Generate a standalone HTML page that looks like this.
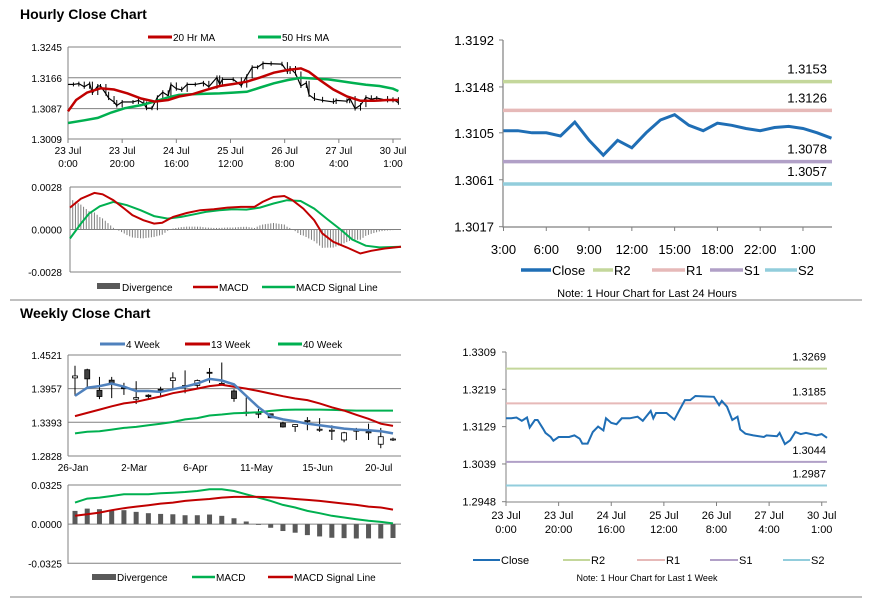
<!DOCTYPE html>
<html><head><meta charset="utf-8">
<style>
body{margin:0;background:#fff;}
svg{display:block;font-family:"Liberation Sans",Arial,sans-serif;}
</style></head>
<body>
<svg id="s" width="873" height="601" viewBox="0 0 873 601" xmlns="http://www.w3.org/2000/svg">
<rect x="0" y="0" width="873" height="601" fill="#fff"/>
<text x="20" y="19" font-size="14" font-weight="bold" fill="#000">Hourly Close Chart</text>
<text x="20" y="318" font-size="14" font-weight="bold" fill="#000">Weekly Close Chart</text>
<line x1="10" y1="300" x2="862" y2="300" stroke="#808080" stroke-width="1"/>
<line x1="10" y1="597" x2="862" y2="597" stroke="#808080" stroke-width="1"/>
<g id="g"></g>
</svg>
<script>
// ---------- DATA ----------
// Hourly close (23 Jul 0:00 .. 30 Jul 1:00), hours offset
const closeHours=[0,2,4,6,8,9,11,12,14,15,17,18,20,24,26,28,29,31,33,35,37,38,40,42,44,47,50,52,55,56,57,61,64,66,68,70,72,75,79,81,82,84,86,88,89,91,94,98,99,103,104,106,108,110,112,114,118,120,122];
const closeVals=[1.3149,1.3149,1.3151,1.3143,1.3151,1.3127,1.3145,1.3145,1.3125,1.3114,1.3104,1.3095,1.3104,1.3104,1.3108,1.3100,1.3088,1.3088,1.3116,1.3129,1.3120,1.3149,1.3138,1.3135,1.3149,1.3149,1.3153,1.3143,1.3167,1.3149,1.3162,1.3162,1.3146,1.3170,1.3193,1.3193,1.3203,1.3202,1.3201,1.3181,1.3191,1.3177,1.3145,1.3153,1.3122,1.3112,1.3108,1.3104,1.3108,1.3106,1.3114,1.3087,1.3096,1.3116,1.3111,1.3114,1.3108,1.3111,1.3102];
const ma20Hours=[0,3,7,12,17,22,27,32,37,41,46,51,56,61,66,71,76,81,86,89,93,98,103,108,113,118,122];
const ma20Vals=[1.3080,1.3109,1.3128,1.3139,1.3136,1.3126,1.3113,1.3105,1.3109,1.3118,1.3124,1.3135,1.3145,1.3150,1.3156,1.3167,1.3179,1.3186,1.3190,1.3181,1.3160,1.3136,1.3118,1.3107,1.3107,1.3109,1.3109];
const ma50Hours=[0,6,11,16,21,27,32,37,41,46,51,56,61,66,71,76,81,86,91,96,100,105,110,115,120,122];
const ma50Vals=[1.3050,1.3057,1.3063,1.3077,1.3088,1.3096,1.3105,1.3116,1.3122,1.3124,1.3125,1.3126,1.3128,1.3130,1.3141,1.3152,1.3160,1.3166,1.3164,1.3162,1.3158,1.3153,1.3148,1.3145,1.3138,1.3132];
const hTickLabels=[["23 Jul","0:00"],["23 Jul","20:00"],["24 Jul","16:00"],["25 Jul","12:00"],["26 Jul","8:00"],["27 Jul","4:00"],["30 Jul","1:00"]];
const hTickHours=[0,20,40,60,80,100,120];
const hYTicks=[1.3245,1.3166,1.3087,1.3009];
const macdHours=[0,4,9,12,16,20,23,27,31,34,38,43,48,53,58,63,68,71,75,79,82,86,90,93,97,102,107,111,116,122];
const macdVals=[0.00144,0.00203,0.00241,0.00232,0.00193,0.00138,0.00094,0.00061,0.00039,0.00044,0.00083,0.00109,0.00127,0.00133,0.00144,0.00149,0.00149,0.00182,0.00214,0.00221,0.00193,0.00138,0.00061,-0.00026,-0.00081,-0.00118,-0.00158,-0.0014,-0.00125,-0.00114];
const sigHours=[0,4,7,11,16,21,26,31,36,41,46,50,55,60,65,70,75,80,85,90,95,100,104,109,114,122];
const sigVals=[-0.00059,0.00039,0.00105,0.00153,0.00182,0.0016,0.00127,0.00088,0.00072,0.00083,0.00101,0.00116,0.00127,0.00133,0.00131,0.00144,0.00171,0.00193,0.00188,0.00138,0.00066,-0.00004,-0.00066,-0.00107,-0.00118,-0.00114];
const hmYTicks=[0.0028,0,-0.0028];
// 24h chart
const h24Vals=[1.3107,1.3107,1.3105,1.3105,1.3102,1.3115,1.3098,1.3084,1.3098,1.3091,1.3105,1.3117,1.3122,1.3112,1.3107,1.3114,1.3112,1.3109,1.3107,1.3110,1.3111,1.3109,1.3105,1.3100];
const h24Labels=["3:00","6:00","9:00","12:00","15:00","18:00","22:00","1:00"];
const h24YTicks=[1.3192,1.3148,1.3105,1.3061,1.3017];
const h24Levels=[1.3153,1.3126,1.3078,1.3057];
const w1Levels=[1.3269,1.3185,1.3044,1.2987];
const w1YTicks=[1.3309,1.3219,1.3129,1.3039,1.2948];
// Weekly
const weekLabels=["26-Jan","2-Mar","6-Apr","11-May","15-Jun","20-Jul"];
const wOpen=[1.4137,1.4274,1.3929,1.4099,1.3973,1.3781,1.3847,1.3946,1.4093,1.4011,1.4011,1.4231,1.4044,1.3918,1.3562,1.3545,1.3535,1.3381,1.3321,1.3425,1.3277,1.3260,1.3096,1.3260,1.3233,1.3025,1.3113];
const wClose=[1.4170,1.4121,1.3825,1.4044,1.3957,1.3808,1.3825,1.3935,1.4137,1.4011,1.4093,1.4226,1.4022,1.3792,1.3562,1.3545,1.3469,1.3315,1.3354,1.3425,1.3277,1.3260,1.3217,1.3260,1.3233,1.3151,1.3113];
const wHigh=[1.4340,1.4291,1.4154,1.4154,1.4055,1.4082,1.3863,1.3989,1.4231,1.4263,1.4110,1.4302,1.4395,1.3946,1.3808,1.3617,1.3540,1.3403,1.3359,1.3480,1.3463,1.3343,1.3233,1.3299,1.3370,1.3299,1.3135];
const wLow=[1.3836,1.3973,1.3781,1.3798,1.3852,1.3699,1.3792,1.3836,1.3957,1.3880,1.3957,1.4055,1.4011,1.3737,1.3496,1.3463,1.3463,1.3304,1.3233,1.3260,1.3233,1.3096,1.3058,1.3096,1.3096,1.2959,1.3080];
const wk4=[1.3836,1.3973,1.4000,1.4044,1.3989,1.3918,1.3918,1.3902,1.3946,1.3989,1.4044,1.4121,1.4094,1.4028,1.3836,1.3644,1.3491,1.3441,1.3409,1.3370,1.3343,1.3315,1.3288,1.3271,1.3261,1.3244,1.3206];
const wk13=[1.3496,1.3551,1.3606,1.3661,1.3710,1.3737,1.3781,1.3825,1.3880,1.3918,1.3957,1.4000,1.4022,1.3989,1.3957,1.3918,1.3874,1.3831,1.3792,1.3765,1.3710,1.3644,1.3589,1.3518,1.3452,1.3370,1.3332];
const wk40=[1.3206,1.3233,1.3244,1.3271,1.3299,1.3315,1.3343,1.3370,1.3398,1.3441,1.3463,1.3507,1.3524,1.3545,1.3551,1.3562,1.3584,1.3600,1.3606,1.3606,1.3606,1.3600,1.3595,1.3589,1.3589,1.3589,1.3589];
const wYTicks=[1.4521,1.3957,1.3393,1.2828];
const wMacd=[0.0179,0.0212,0.0220,0.0234,0.0248,0.0248,0.0248,0.0256,0.0261,0.0267,0.0275,0.0289,0.0289,0.0275,0.0248,0.0220,0.0193,0.0160,0.0138,0.0110,0.0091,0.0069,0.0055,0.0041,0.0028,0.0019,0.0006];
const wSig=[0.0069,0.0083,0.0096,0.0116,0.0132,0.0146,0.0157,0.0171,0.0179,0.0193,0.0201,0.0209,0.0220,0.0226,0.0226,0.0226,0.0223,0.0217,0.0209,0.0201,0.0193,0.0182,0.0171,0.0160,0.0146,0.0138,0.0121];
const wmYTicks=[0.0325,0,-0.0325];

// ---------- HELPERS ----------
const NS="http://www.w3.org/2000/svg";
const G=document.getElementById('g');
function mk(tag,attrs){const e=document.createElementNS(NS,tag);for(const k in attrs)e.setAttribute(k,attrs[k]);G.appendChild(e);return e;}
function scale(d0,d1,r0,r1){return v=>r0+(v-d0)/(d1-d0)*(r1-r0);}
function interp(xs,ys,x){if(x<=xs[0])return ys[0];for(let i=1;i<xs.length;i++){if(x<=xs[i]){const t=(x-xs[i-1])/(xs[i]-xs[i-1]);return ys[i-1]+t*(ys[i]-ys[i-1]);}}return ys[ys.length-1];}
function pts(xs,ys,fx,fy){return xs.map((x,i)=>fx(x).toFixed(1)+","+fy(ys[i]).toFixed(1)).join(" ");}
function txt(x,y,s,size,anchor,fill){const t=mk('text',{x:x,y:y,'font-size':size,'text-anchor':anchor||'start',fill:fill||'#000'});t.textContent=s;return t;}
function fmt(v,d){return v.toFixed(d);}

// ---------- HOURLY PRICE (top-left) ----------
{
 const fx=scale(0,120,68,393), fy=scale(1.3245,1.3009,47,139);
 hYTicks.forEach((v,i)=>{
  const l=mk('line',{x1:68,x2:401,y1:fy(v),y2:fy(v),stroke:'#808080','stroke-width':1});
  
  
  const t=txt(62,fy(v)+4,fmt(v,4),10,'end');
  
  
 });
 const ax=mk('line',{x1:68,x2:68,y1:47,y2:139,stroke:'#808080'});
 
 
 hTickHours.forEach((h,i)=>{
  const tk=mk('line',{x1:fx(h),x2:fx(h),y1:139,y2:143,stroke:'#808080'});
  
  
  const a=txt(fx(h),154,hTickLabels[i][0],10,'middle');
  
  
  const b=txt(fx(h),167,hTickLabels[i][1],10,'middle');
  
  
 });
 for(let i=1;i<closeHours.length;i++){
  const x=fx(closeHours[i]);
  const a=fy(closeVals[i-1]), b=fy(closeVals[i]);
  const c=mk('line',{x1:x,x2:x,y1:Math.min(a,b)-2,y2:Math.max(a,b)+2,stroke:'#000','stroke-width':1});
  
  
  const h=mk('line',{x1:fx(closeHours[i-1]),x2:x,y1:a,y2:b,stroke:'#000','stroke-width':1.2});
  
  
 }
 const l50=mk('polyline',{points:pts(ma50Hours,ma50Vals,fx,fy),fill:'none',stroke:'#00b050','stroke-width':2.5});
 
 
 const l20=mk('polyline',{points:pts(ma20Hours,ma20Vals,fx,fy),fill:'none',stroke:'#c00000','stroke-width':2.5});
 
 
 const lg1=mk('line',{x1:148,x2:172,y1:37,y2:37,stroke:'#c00000','stroke-width':3});
 
 
 const lt1=txt(173,41,'20 Hr MA',10);
 
 
 const lg2=mk('line',{x1:258,x2:281,y1:37,y2:37,stroke:'#00b050','stroke-width':3});
 
 
 const lt2=txt(282,41,'50 Hrs MA',10);
 
 
}
// ---------- HOURLY MACD ----------
{
 const fx=scale(0,122,70,401), fy=scale(0.0028,-0.0028,187,272);
 hmYTicks.forEach(v=>{
  const l=mk('line',{x1:70,x2:401,y1:fy(v),y2:fy(v),stroke:'#808080'});
  
  
  const t=txt(62,fy(v)+4,fmt(v,4),10,'end');
  
  
 });
 const ax=mk('line',{x1:70,x2:70,y1:187,y2:272,stroke:'#808080'});
 
 
 for(let h=0;h<=121;h++){
  const d=interp(macdHours,macdVals,h)-interp(sigHours,sigVals,h);
  const b=mk('line',{x1:fx(h),x2:fx(h),y1:fy(0),y2:fy(d),stroke:'#7f7f7f','stroke-width':1});
  
  
 }
 const s=mk('polyline',{points:pts(sigHours,sigVals,fx,fy),fill:'none',stroke:'#00b050','stroke-width':2});
 
 
 const m=mk('polyline',{points:pts(macdHours,macdVals,fx,fy),fill:'none',stroke:'#c00000','stroke-width':2});
 
 
 const r=mk('rect',{x:97,y:283,width:23,height:6,fill:'#595959'});
 
 
 const t1=txt(122,291,'Divergence',10);
 
 
 const l2=mk('line',{x1:193,x2:218,y1:287,y2:287,stroke:'#c00000','stroke-width':2.5});
 
 
 const t2=txt(219,291,'MACD',10);
 
 
 const l3=mk('line',{x1:262,x2:295,y1:287,y2:287,stroke:'#00b050','stroke-width':2.5});
 
 
 const t3=txt(296,291,'MACD Signal Line',10);
 
 
}
// ---------- 24H CHART (top-right) ----------
{
 const fx=scale(0,23,503.5,831.5), fy=scale(1.3192,1.3017,40,226.7);
 const ax=mk('polyline',{points:'503,40 503,227 832,227',fill:'none',stroke:'#808080','stroke-width':1.2});
 
 
 h24YTicks.forEach(v=>{
  const tk=mk('line',{x1:499,x2:503,y1:fy(v),y2:fy(v),stroke:'#808080'});
  
  
  const t=txt(494,fy(v)+5,fmt(v,4),13,'end');
  
  
 });
 h24Labels.forEach((s,i)=>{
  const x=fx(i*3);
  const tk=mk('line',{x1:x,x2:x,y1:227,y2:231,stroke:'#808080'});
  
  
  const t=txt(x,254,s,13,'middle');
  
  
 });
 const cols=['#c4d79b','#e6b9b8','#b1a0c7','#92cddc'];
 h24Levels.forEach((v,i)=>{
  const l=mk('line',{x1:503,x2:832,y1:fy(v),y2:fy(v),stroke:cols[i],'stroke-width':3.5});
  
  
  const t=txt(827,fy(v)-8,fmt(v,4),13,'end');
  
  
 });
 const c=mk('polyline',{points:pts(h24Vals.map((v,i)=>i),h24Vals,fx,fy),fill:'none',stroke:'#1f6eb5','stroke-width':3});
 
 
 const lg=[['Close','#1f6eb5',521,551],['R2','#c4d79b',593,613],['R1','#e6b9b8',652,685],['S1','#b1a0c7',710,743],['S2','#92cddc',765,797]];
 lg.forEach(a=>{
  const l=mk('line',{x1:a[2],x2:a[3],y1:270,y2:270,stroke:a[1],'stroke-width':3.5});
  
  
  const t=txt(a[3]+1,275,a[0],13);
  
  
 });
 const n=txt(647,297,'Note: 1 Hour Chart for Last 24 Hours',11,'middle');
 
 
}
// ---------- 1 WEEK HOURLY (bottom-right) ----------
{
 const fx=scale(0,122,506,827), fy=scale(1.3309,1.2948,352,501.7);
 const ax=mk('polyline',{points:'506,352 506,502 827,502',fill:'none',stroke:'#808080','stroke-width':1});
 
 
 w1YTicks.forEach(v=>{
  const tk=mk('line',{x1:502,x2:506,y1:fy(v),y2:fy(v),stroke:'#808080'});
  
  
  const t=txt(496,fy(v)+4,fmt(v,4),11,'end');
  
  
 });
 hTickHours.forEach((h,i)=>{
  const x=fx(h);
  const tk=mk('line',{x1:x,x2:x,y1:502,y2:506,stroke:'#808080'});
  
  
  const a=txt(x,519,hTickLabels[i][0],11,'middle');
  
  
  const b=txt(x,533,hTickLabels[i][1],11,'middle');
  
  
 });
 const cols=['#c4d79b','#e6b9b8','#b1a0c7','#92cddc'];
 w1Levels.forEach((v,i)=>{
  const l=mk('line',{x1:506,x2:827,y1:fy(v),y2:fy(v),stroke:cols[i],'stroke-width':2});
  
  
  const t=txt(826,fy(v)-8,fmt(v,4),11,'end');
  
  
 });
 const c=mk('polyline',{points:pts(closeHours,closeVals,fx,fy),fill:'none',stroke:'#1f6eb5','stroke-width':2});
 
 
 const lg=[['Close','#1f6eb5',473,500],['R2','#c4d79b',563,590],['R1','#e6b9b8',637,665],['S1','#b1a0c7',710,738],['S2','#92cddc',783,810]];
 lg.forEach(a=>{
  const l=mk('line',{x1:a[2],x2:a[3],y1:560,y2:560,stroke:a[1],'stroke-width':2});
  
  
  const t=txt(a[3]+1,564,a[0],11);
  
  
 });
 const n=txt(647,581,'Note: 1 Hour Chart for Last 1 Week',9,'middle');
 
 
}
// ---------- WEEKLY PRICE ----------
{
 const fx=scale(0,26,75,393), fy=scale(1.4521,1.2828,355,456);
 wYTicks.forEach(v=>{
  const l=mk('line',{x1:68,x2:401,y1:fy(v),y2:fy(v),stroke:'#808080'});
  
  
  const t=txt(62,fy(v)+4,fmt(v,4),10,'end');
  
  
 });
 const ax=mk('line',{x1:68,x2:68,y1:355,y2:456,stroke:'#808080'});
 
 
 weekLabels.forEach((s,i)=>{
  const x=fx(i*5)-2;
  const t=txt(x,471,s,10,'middle');
  
  
 });
 wOpen.forEach((o,i)=>{
  const x=fx(i), c=wClose[i];
  const w=mk('line',{x1:x,x2:x,y1:fy(wHigh[i]),y2:fy(wLow[i]),stroke:'#000','stroke-width':1});
  
  
  const top=fy(Math.max(o,c)), bot=fy(Math.min(o,c));
  const b=mk('rect',{x:x-2.5,y:top,width:5,height:Math.max(1,bot-top),fill:c>=o?'#fff':'#404040',stroke:'#000','stroke-width':0.8});
  
  
 });
 const wi=wk4.map((v,i)=>i);
 const l40=mk('polyline',{points:pts(wi,wk40,fx,fy),fill:'none',stroke:'#00b050','stroke-width':2});
 
 
 const l13=mk('polyline',{points:pts(wi,wk13,fx,fy),fill:'none',stroke:'#c00000','stroke-width':2});
 
 
 const l4=mk('polyline',{points:pts(wi,wk4,fx,fy),fill:'none',stroke:'#4f81bd','stroke-width':2.5});
 
 
 const lg=[['4 Week','#4f81bd',100,125],['13 Week','#c00000',185,210],['40 Week','#00b050',278,302]];
 lg.forEach(a=>{
  const l=mk('line',{x1:a[2],x2:a[3],y1:344,y2:344,stroke:a[1],'stroke-width':3});
  
  
  const t=txt(a[3]+1,348,a[0],10);
  
  
 });
}
// ---------- WEEKLY MACD ----------
{
 const fx=scale(0,26,75,393), fy=scale(0.0325,-0.0325,485,563.3);
 wmYTicks.forEach(v=>{
  const l=mk('line',{x1:68,x2:401,y1:fy(v),y2:fy(v),stroke:'#808080'});
  
  
  const t=txt(62,fy(v)+4,fmt(v,4),10,'end');
  
  
 });
 const ax=mk('line',{x1:68,x2:68,y1:485,y2:564,stroke:'#808080'});
 
 
 wMacd.forEach((m,i)=>{
  const d=m-wSig[i];
  const y0=fy(0), y1=fy(d);
  const b=mk('rect',{x:fx(i)-2.5,y:Math.min(y0,y1),width:5,height:Math.abs(y1-y0),fill:'#595959'});
  
  
 });
 const wi=wMacd.map((v,i)=>i);
 const g=mk('polyline',{points:pts(wi,wMacd,fx,fy),fill:'none',stroke:'#00b050','stroke-width':2});
 
 
 const r=mk('polyline',{points:pts(wi,wSig,fx,fy),fill:'none',stroke:'#c00000','stroke-width':2});
 
 
 const rc=mk('rect',{x:92,y:574,width:24,height:6,fill:'#595959'});
 
 
 const t1=txt(117,581,'Divergence',10);
 
 
 const l2=mk('line',{x1:192,x2:215,y1:577,y2:577,stroke:'#00b050','stroke-width':2.5});
 
 
 const t2=txt(216,581,'MACD',10);
 
 
 const l3=mk('line',{x1:268,x2:293,y1:577,y2:577,stroke:'#c00000','stroke-width':2.5});
 
 
 const t3=txt(294,581,'MACD Signal Line',10);
 
 
}
</script>
</body></html>
